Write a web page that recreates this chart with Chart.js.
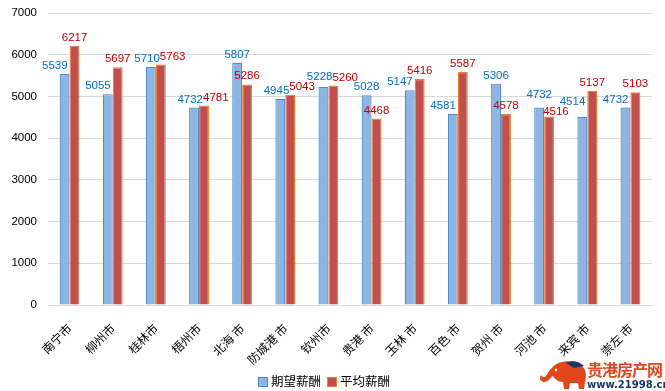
<!DOCTYPE html>
<html><head><meta charset="utf-8">
<script src="https://cdn.jsdelivr.net/npm/chart.js@4"></script>
<style>
html,body{margin:0;padding:0;background:#fff;}
#wrap{position:relative;width:665px;height:391px;}
#logo{position:absolute;left:538px;top:358px;width:127px;height:33px;}
#logo .t1{position:absolute;left:49px;top:2px;font:bold 16px "Noto Sans CJK SC",sans-serif;color:#E2461C;letter-spacing:-1px;line-height:18px;white-space:nowrap;}
#logo .t2{position:absolute;left:49px;top:21px;font:bold 10px "DejaVu Sans",sans-serif;color:#1B3766;line-height:11px;letter-spacing:0px;white-space:nowrap;}
#legend{position:absolute;left:258px;top:372px;height:18px;font:12.5px "Noto Sans CJK SC",sans-serif;color:#000;white-space:nowrap;line-height:18px;}
#legend span.item{display:inline-block;margin-right:6px;}
#legend i{display:inline-block;width:8px;height:8px;border:1px solid;vertical-align:-1px;margin-right:3px;}
</style></head>
<body><div id="wrap"><canvas id="c" width="665" height="391"></canvas>
<div id="legend"></div>
<div id="logo">
<svg width="50" height="33" viewBox="0 0 50 33" style="position:absolute;left:0;top:0">
<path d="M14 10 C18 3 34 1 42 6 C48 10 49 18 47 24 L46 31 L41 31 L40 25 L32 25 L31 31 L26 31 L25 24 C20 24 17 21 15 18 C12 20 10 24 6 24 C2 24 1 20 3 17 C4 19 6 20 8 18 C10 15 11 12 14 10 Z" fill="#E2461C"/>
<path d="M28 5 C34 2 41 3 46 8 L36 10 Z" fill="#1B3766"/>
<circle cx="18" cy="12" r="1.3" fill="#fff"/>
</svg>
<div class="t1">贵港房产网</div>
<div class="t2">www.21998.cn</div>
</div></div>
<script>
const categories = ["南宁市","柳州市","桂林市","梧州市","北海 市","防城港 市","钦州市","贵港 市","玉林 市","百色 市","贺州 市","河池 市","来宾 市","崇左 市"];
const expectedPay = [5539,5055,5710,4732,5807,4945,5228,5028,5147,4581,5306,4732,4514,4732];
const averagePay = [6217,5697,5763,4781,5286,5043,5260,4468,5416,5587,4578,4516,5137,5103];
const yTicks = [0,1000,2000,3000,4000,5000,6000,7000];

const labelFont = '11.5px "Liberation Sans", Arial, sans-serif';
const labelPlugin = {
  id: 'barLabels',
  afterDatasetsDraw(chart) {
    const ctx = chart.ctx;
    const m0 = chart.getDatasetMeta(0), m1 = chart.getDatasetMeta(1);
    ctx.save();
    ctx.font = labelFont;
    ctx.textBaseline = 'alphabetic';
    ctx.textAlign = 'left';
    const capH = 8.5, gap = 5;
    const blue = [], red = [];
    for (let i = 0; i < categories.length; i++) {
      const b = m0.data[i], r = m1.data[i];
      const rt = String(averagePay[i]), bt = String(expectedPay[i]);
      const rw = ctx.measureText(rt).width, bw = ctx.measureText(bt).width;
      const redBarLeft = r.x - r.width / 2;
      const boundary = (b.x + b.width / 2 + redBarLeft) / 2;
      let rLeft = r.x - rw / 2, rBase = r.y - gap;
      let bLeft = b.x - bw / 2, bBase = b.y - gap;
      if (bBase > r.y && bLeft + bw > redBarLeft - 2) bLeft = redBarLeft - 2 - bw;
      const vOverlap = !(bBase < rBase - capH - 1 || bBase - capH > rBase + 1);
      if (vOverlap && bLeft + bw > rLeft) {
        if (r.y - b.y > 6) { bBase = b.y - 10; rBase = r.y - 2; rLeft = boundary - 1; }
        else { bLeft = boundary + 4 - bw; rLeft = boundary + 4; }
      }
      blue.push({ t: bt, x: bLeft, y: bBase, w: bw });
      red.push({ t: rt, x: rLeft, y: rBase, w: rw });
    }
    for (let i = 1; i < blue.length; i++) {
      const p = red[i - 1], q = blue[i];
      const hOv = q.x < p.x + p.w && q.x + q.w > p.x;
      const vOv = !(q.y < p.y - capH - 1 || q.y - capH > p.y + 1);
      if (hOv && vOv) q.y = p.y - capH - 1.5;
    }
    for (let i = 0; i < blue.length; i++) {
      ctx.fillStyle = '#C00000';
      ctx.fillText(red[i].t, red[i].x, red[i].y);
      ctx.fillStyle = '#0070C0';
      ctx.fillText(blue[i].t, blue[i].x, blue[i].y);
    }
    ctx.restore();
  }
};

const chart = new Chart(document.getElementById('c'), {
  type: 'bar',
  data: {
    labels: categories,
    datasets: [
      { label: '期望薪酬', data: expectedPay, backgroundColor: '#8DB4E2', borderColor: '#4F8BCB', borderWidth: 1.2,
        categoryPercentage: 0.46, barPercentage: 1.0 },
      { label: '平均薪酬', data: averagePay, backgroundColor: '#C0504D', borderColor: '#ED7D31', borderWidth: 1.2,
        categoryPercentage: 0.46, barPercentage: 1.0 }
    ]
  },
  options: {
    responsive: false,
    animation: false,
    layout: { padding: { left: 0, right: 13, top: 13, bottom: 0 } },
    plugins: {
      legend: { display: false },
      tooltip: { enabled: false }
    },
    scales: {
      x: {
        grid: { display: false },
        border: { color: '#D9D9D9', width: 1 },
        ticks: { minRotation: 45, maxRotation: 45, padding: 8, color: '#000',
          font: { family: '"Noto Sans CJK SC", sans-serif', size: 12 } },
        afterFit(s) { s.height = 86; s.paddingLeft = 0; s.paddingRight = 0; }
      },
      y: {
        min: 0, max: 7000,
        afterBuildTicks(s) { s.ticks = yTicks.map(v => ({ value: v })); },
        grid: { color: '#D9D9D9', drawTicks: false },
        border: { display: false },
        ticks: { padding: 11, color: '#000', callback: v => String(v),
          font: { family: '"Liberation Sans", Arial, sans-serif', size: 11.5 } },
        afterFit(s) { s.width = 48; s.paddingTop = 0; s.paddingBottom = 0; }
      }
    }
  },
  plugins: [labelPlugin]
});

const leg = document.getElementById('legend');
chart.data.datasets.forEach(ds => {
  const s = document.createElement('span'); s.className = 'item';
  const box = document.createElement('i');
  box.style.background = ds.backgroundColor; box.style.borderColor = ds.borderColor;
  s.appendChild(box); s.appendChild(document.createTextNode(ds.label));
  leg.appendChild(s);
});
</script></body></html>
